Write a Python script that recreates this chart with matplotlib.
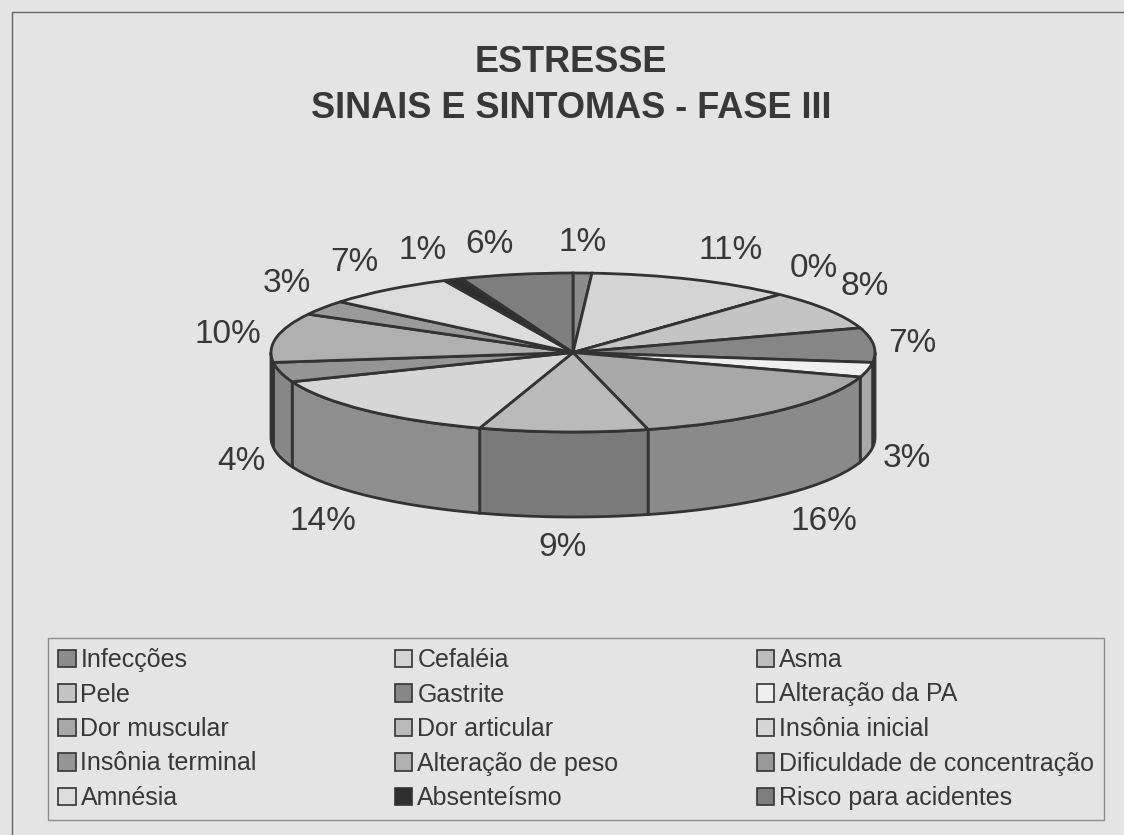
import numpy as np
import matplotlib
matplotlib.use("Agg")
import matplotlib.pyplot as plt
from matplotlib.patches import Polygon, Patch, Rectangle

plt.rcParams['font.family'] = ['Liberation Sans', 'DejaVu Sans']

# data (percent, clockwise from 12 o'clock)
categories = ['Infecções', 'Cefaléia', 'Asma', 'Pele', 'Gastrite',
              'Alteração da PA', 'Dor muscular', 'Dor articular',
              'Insônia inicial', 'Insônia terminal', 'Alteração de peso',
              'Dificuldade de concentração', 'Amnésia', 'Absenteísmo',
              'Risco para acidentes']
values = [1, 11, 0, 8, 7, 3, 16, 9, 14, 4, 10, 3, 7, 1, 6]
title_lines = ['ESTRESSE', 'SINAIS E SINTOMAS - FASE III']

# styles
top_colors = ['#8c8c8c', '#d4d4d4', '#bdbdbd', '#c4c4c4', '#868686',
              '#efefef', '#a8a8a8', '#bababa', '#d6d6d6', '#959595',
              '#b0b0b0', '#9a9a9a', '#dcdcdc', '#2e2e2e', '#7e7e7e']
side_colors = ['#6e6e6e', '#a0a0a0', '#8f8f8f', '#969696', '#6c6c6c',
               '#a9a9a9', '#8a8a8a', '#7a7a7a', '#8e8e8e', '#878787',
               '#8a8a8a', '#787878', '#a5a5a5', '#222222', '#5f5f5f']
edge = '#333333'
text_col = '#383838'

W, H = 1124, 835
CX, CY = 573, 352.5      # pie centre in pixels
RX, RY = 302, 79.5       # ellipse radii in pixels
DEPTH = 85 / RY          # side height in data units
GAP = 15                 # label gap in pixels

fig = plt.figure(figsize=(W / 100, H / 100), dpi=100, facecolor='#e4e4e4')
ax = fig.add_axes([0, 0, 1, 1])

# top face
wedges, _ = ax.pie(values, colors=top_colors, startangle=90, counterclock=False,
                   radius=1, center=(0, 0),
                   wedgeprops=dict(edgecolor=edge, linewidth=2, zorder=3))

# front side of the cylinder
total = sum(values)
bounds = np.concatenate([[0], np.cumsum(values)]) / total * 360
for i in range(len(values)):
    lo, hi = max(bounds[i], 90), min(bounds[i + 1], 270)
    if hi <= lo:
        continue
    t = np.radians(np.linspace(lo, hi, 60))
    xs = np.sin(t)
    ys = np.cos(t)
    pts = np.column_stack([np.concatenate([xs, xs[::-1]]),
                           np.concatenate([ys, ys[::-1] - DEPTH])])
    ax.add_patch(Polygon(pts, closed=True, facecolor=side_colors[i],
                         edgecolor=edge, linewidth=2, zorder=1))

# percentage labels
for i, v in enumerate(values):
    mid = np.radians((bounds[i] + bounds[i + 1]) / 2)
    s, c = np.sin(mid), np.cos(mid)
    x = (1 + GAP / RX) * s
    y = (1 + GAP / RY) * c
    if c < 0:
        y -= DEPTH
    ha = 'left' if s > 0.15 else ('right' if s < -0.15 else 'center')
    va = 'bottom' if c > 0.3 else ('top' if c < -0.3 else 'center')
    ax.text(x, y, f'{v}%', ha=ha, va=va, fontsize=24, color=text_col)

ax.set_xlim(-CX / RX, (W - CX) / RX)
ax.set_ylim((CY - H) / RY, CY / RY)
ax.set_aspect('auto')
ax.axis('off')

# title
fig.text(0.508, 1 - 62 / H, title_lines[0], ha='center', va='center',
         fontsize=26, fontweight='bold', color=text_col)
fig.text(0.508, 1 - 108 / H, title_lines[1], ha='center', va='center',
         fontsize=26, fontweight='bold', color=text_col)

# legend, row-major order in 3 columns
handles = [Patch(facecolor=top_colors[i], edgecolor=edge, linewidth=1.2)
           for i in range(len(categories))]
order = [i for col in range(3) for i in range(col, len(categories), 3)]
leg = fig.legend([handles[i] for i in order], [categories[i] for i in order],
                 ncol=3, loc='upper left', mode='expand',
                 bbox_to_anchor=(48 / W, 0, 1056 / W, 1 - 638 / H),
                 borderaxespad=0, fontsize=18, frameon=True, fancybox=False,
                 handlelength=0.7, handleheight=0.7, handletextpad=0.2,
                 labelspacing=0.42, borderpad=0.4)
leg.get_frame().set_facecolor('none')
leg.get_frame().set_edgecolor('#777777')
leg.get_frame().set_linewidth(1)
for txt in leg.get_texts():
    txt.set_color(text_col)

# chart area border
fig.patches.append(Rectangle((12 / W, -0.1), 1.2, 1.1 - 12 / H,
                             transform=fig.transFigure, fill=False,
                             edgecolor='#666666', linewidth=1))

fig.savefig('out.png', dpi=100, facecolor=fig.get_facecolor())
